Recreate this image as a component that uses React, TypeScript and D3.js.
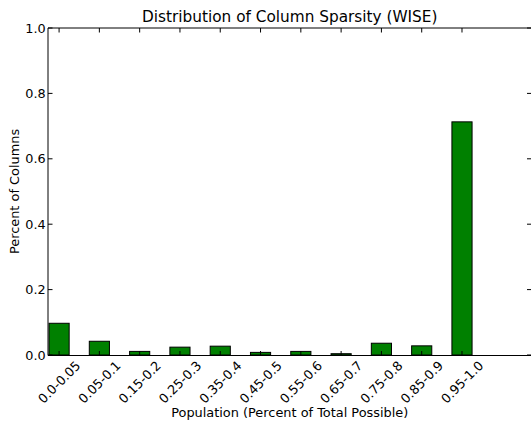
import * as d3 from "d3";

const categories = [
  "0.0-0.05",
  "0.05-0.1",
  "0.15-0.2",
  "0.25-0.3",
  "0.35-0.4",
  "0.45-0.5",
  "0.55-0.6",
  "0.65-0.7",
  "0.75-0.8",
  "0.85-0.9",
  "0.95-1.0",
];
const values = [0.097, 0.042, 0.011, 0.024, 0.027, 0.008, 0.011, 0.004, 0.036, 0.028, 0.713];
const yTicks = [0, 0.2, 0.4, 0.6, 0.8, 1.0];

const width = 531;
const height = 423;
const font = "DejaVu Sans";

export default function App() {
  const left = 48;
  const right = 531.5;
  const top = 28;
  const bottom = 355.5;

  // bars sit at integer positions, 0.5 wide
  const x = d3.scaleLinear().domain([-0.275, 11.725]).range([left, right]);
  const y = d3.scaleLinear().domain([0, 1]).range([355, top]);
  const barW = x(0.5) - x(0);
  const tickLen = 4.5;
  const labelCy = 382;
  const fs = 12.8;

  return (
    <svg
      width={width}
      height={height}
      style={{ position: "absolute", left: 0, top: 0, background: "#fff" }}
      fontFamily={font}
    >
      {/* bars */}
      {values.map((v, i) => (
        <rect
          key={categories[i]}
          x={x(i) - barW / 2}
          y={y(v)}
          width={barW}
          height={y(0) - y(v)}
          fill="#008000"
          stroke="#000"
          strokeWidth={1}
        />
      ))}

      {/* spines */}
      <line x1={left} x2={left} y1={top} y2={bottom} stroke="#000" />
      <line x1={right} x2={right} y1={top} y2={bottom} stroke="#000" />
      <line x1={left} x2={right} y1={top} y2={top} stroke="#000" />
      <line x1={left} x2={right} y1={bottom} y2={bottom} stroke="#000" />

      {/* x ticks, inward on top and bottom */}
      {categories.map((c, i) => (
        <g key={c}>
          <line x1={x(i)} x2={x(i)} y1={bottom} y2={bottom - tickLen} stroke="#000" />
          <line x1={x(i)} x2={x(i)} y1={top} y2={top + tickLen} stroke="#000" />
          <text
            transform={`translate(${x(i)},${labelCy}) rotate(-45)`}
            textAnchor="middle"
            dy="0.365em"
            fontSize={fs}
            fill="#000"
          >
            {c}
          </text>
        </g>
      ))}

      {/* y ticks */}
      {yTicks.map((t) => (
        <g key={t}>
          <line x1={left} x2={left + tickLen} y1={y(t)} y2={y(t)} stroke="#000" />
          <line x1={right} x2={right - tickLen} y1={y(t)} y2={y(t)} stroke="#000" />
          <text x={45.6} y={y(t)} dy="0.365em" textAnchor="end" fontSize={fs} fill="#000">
            {t.toFixed(1)}
          </text>
        </g>
      ))}

      <text x={(left + right) / 2} y={22} textAnchor="middle" fontSize={15.3} fill="#000">
        Distribution of Column Sparsity (WISE)
      </text>
      <text x={(left + right) / 2} y={417} textAnchor="middle" fontSize={12.9} fill="#000">
        Population (Percent of Total Possible)
      </text>
      <text
        transform={`translate(19,${(top + 355) / 2}) rotate(-90)`}
        textAnchor="middle"
        fontSize={12.9}
        fill="#000"
      >
        Percent of Columns
      </text>
    </svg>
  );
}
